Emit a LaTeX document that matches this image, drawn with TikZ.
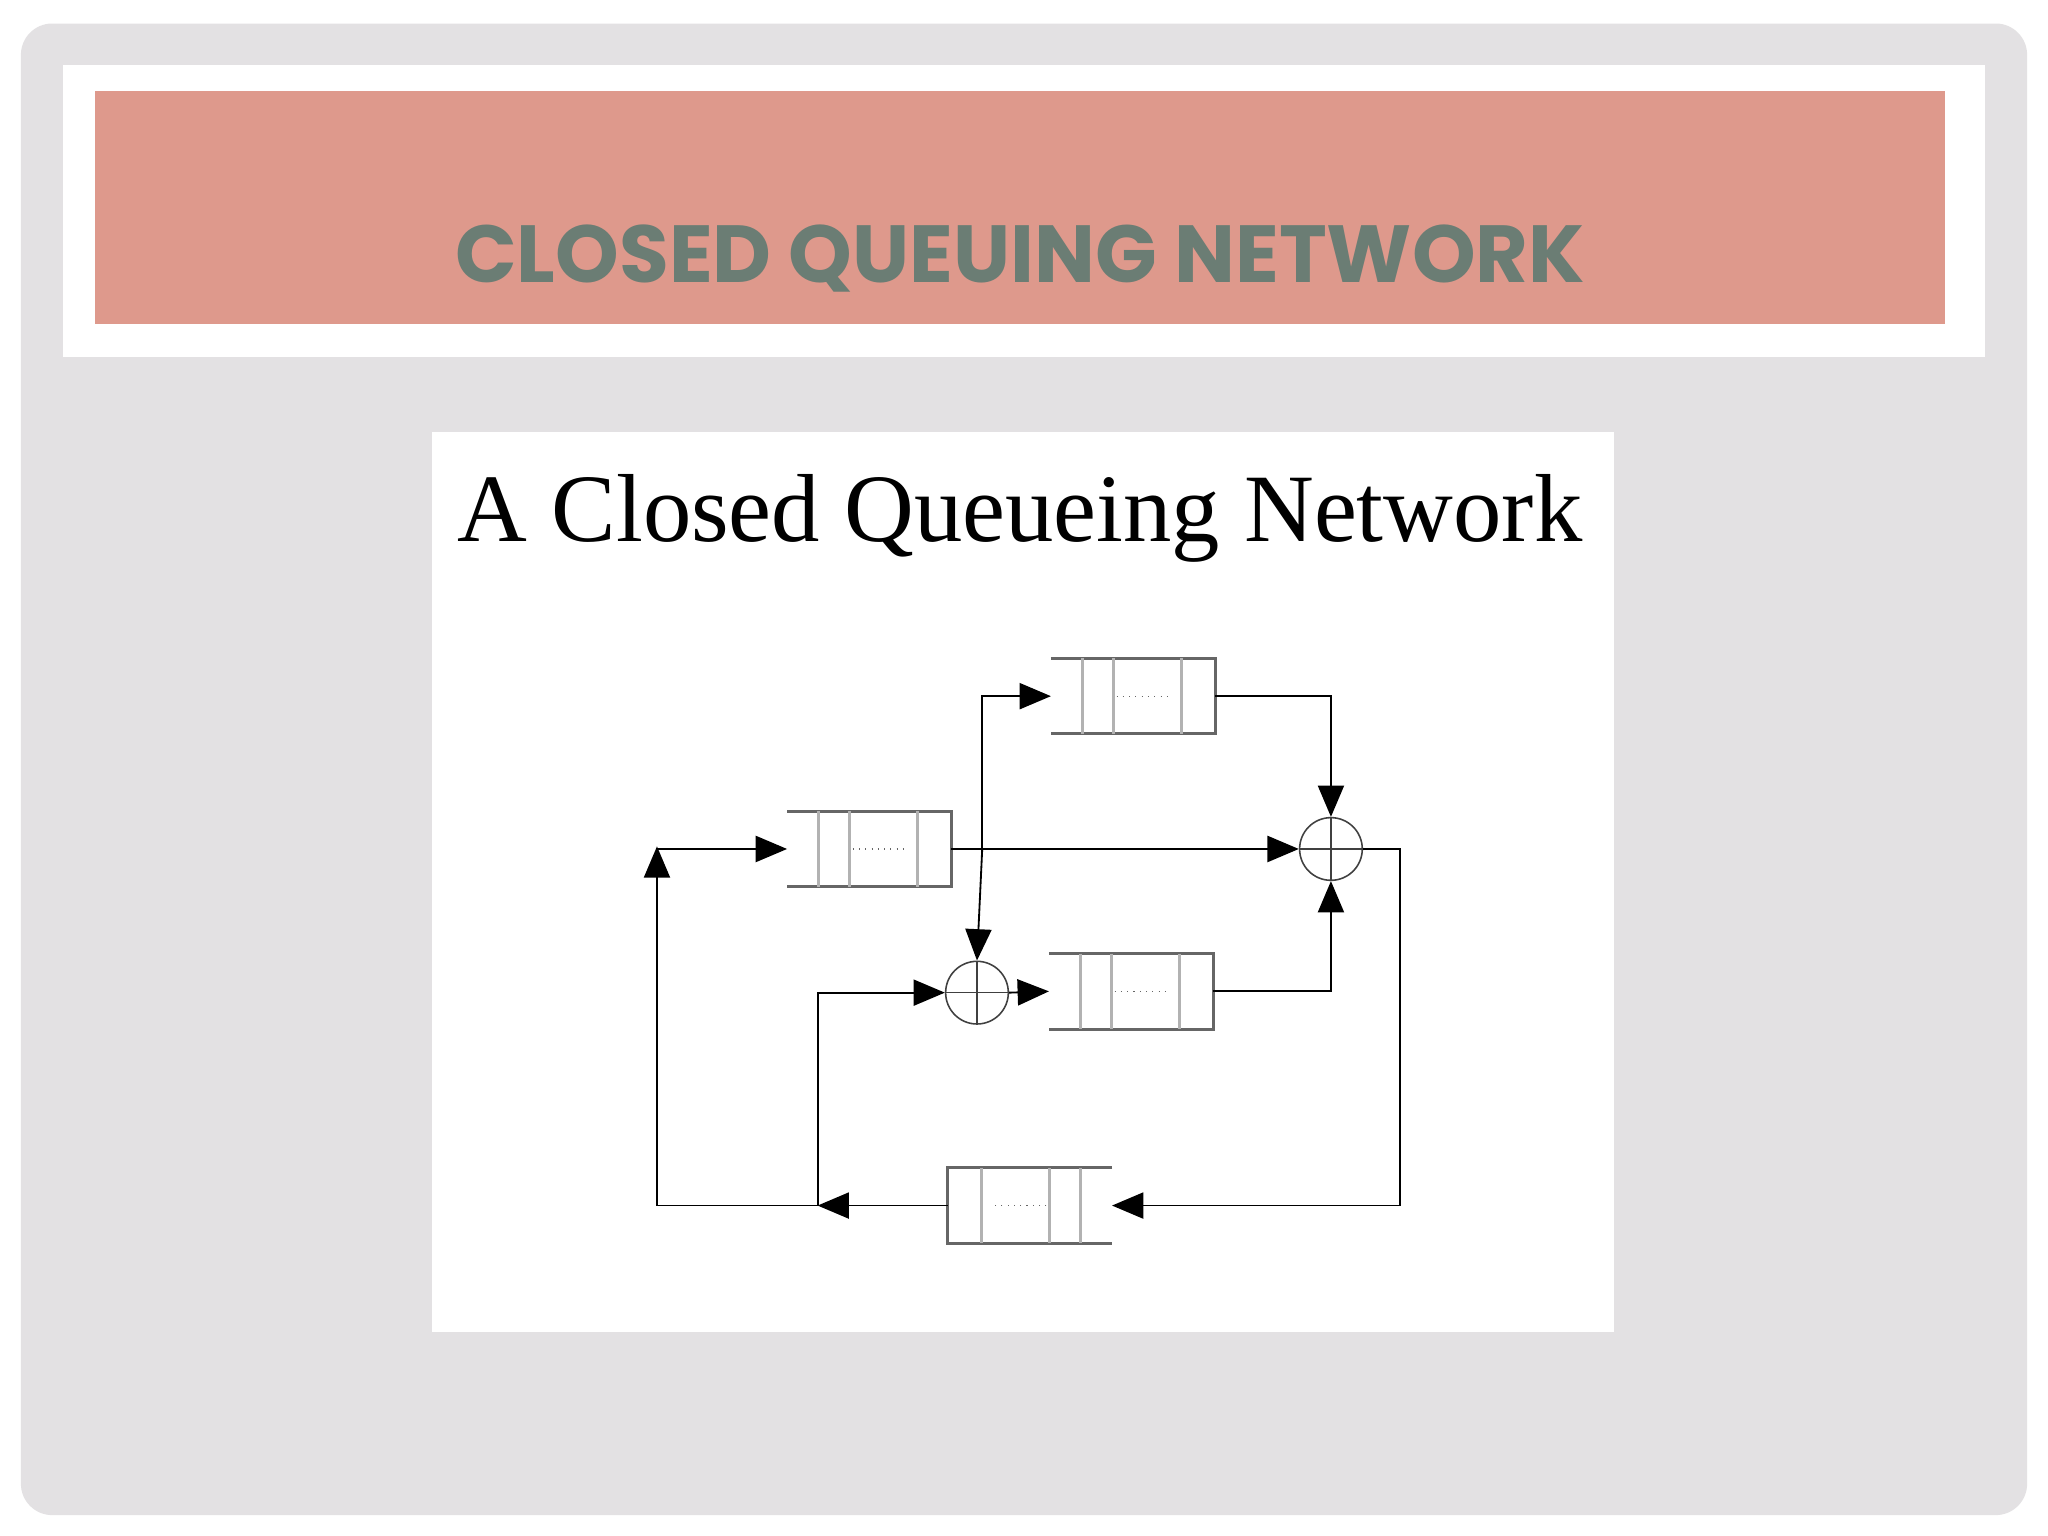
\documentclass[tikz,border=0pt]{standalone}
\usepackage{fontspec}
\setmainfont{Liberation Serif}
\newfontfamily\titlefont{Poppins}
\usetikzlibrary{arrows.meta,calc}
\definecolor{bgg}{HTML}{E3E1E3}
\definecolor{salmon}{HTML}{DE998C}
\definecolor{ttxt}{HTML}{6B7D74}
\tikzset{
  qbox/.style={minimum width=62.5pt,minimum height=28.5pt,inner sep=0pt},
  qline/.style={draw=black!60,line width=1.2pt},
  qthin/.style={draw=black!30,line width=1.1pt},
  conn/.style={draw=black,line width=0.7pt},
  arr/.style={conn,-{Triangle[length=12pt,width=10pt]}},
  sumnode/.style={circle,draw=black!75,line width=0.6pt,minimum size=24pt,inner sep=0pt},
}
\newcommand\qL[1]{%
  \draw[qline] (#1.north west)--(#1.north east)--(#1.south east)--(#1.south west);
  \foreach \f in {0.19,0.38,0.795}{\draw[qthin] ($(#1.north west)!\f!(#1.north east)$)--($(#1.south west)!\f!(#1.south east)$);}
  \draw[black!60,dotted,line width=0.4pt] ($(#1.west)!0.4!(#1.east)$)--($(#1.west)!0.72!(#1.east)$);}
\newcommand\qR[1]{%
  \draw[qline] (#1.north east)--(#1.north west)--(#1.south west)--(#1.south east);
  \foreach \f in {0.19,0.38,0.795}{\draw[qthin] ($(#1.north east)!\f!(#1.north west)$)--($(#1.south east)!\f!(#1.south west)$);}
  \draw[black!60,dotted,line width=0.4pt] ($(#1.east)!0.4!(#1.west)$)--($(#1.east)!0.72!(#1.west)$);}
\newcommand\plus[1]{\draw[black!75,line width=0.6pt] (#1.north)--(#1.south) (#1.west)--(#1.east);}
\begin{document}
\begin{tikzpicture}[x=0.5pt,y=-0.5pt]
\useasboundingbox (0,0) rectangle (1568,1176);
\fill[white] (0,0) rectangle (1568,1176);
\fill[bgg,rounded corners=12pt] (16,18) rectangle (1552,1160);
\fill[white] (48,50) rectangle (1520,273);
\fill[salmon] (73,70) rectangle (1489,248);
\node[font=\titlefont\bfseries\fontsize{31}{36}\selectfont,text=ttxt] (title) at (781,198) {CLOSED QUEUING NETWORK};
\fill[white] (331,331) rectangle (1236,1020);
\node[font=\fontsize{37}{42}\selectfont] (sub) at (781,397) {A Closed Queueing Network};
% queues
\node[qbox] (q1) at (867.5,533) {};
\node[qbox] (q2) at (665.5,650) {};
\node[qbox] (q3) at (866,759) {};
\node[qbox] (q4) at (788.5,923) {};
\qL{q1}\qL{q2}\qL{q3}\qR{q4}
\node[sumnode] (s1) at (1019,650) {};
\node[sumnode] (s2) at (748,760) {};
\plus{s1}\plus{s2}
% junctions
\coordinate (j1) at (752,650);
\coordinate (j1t) at (752,533);
\coordinate (j2) at (626,923);
\coordinate (j3) at (503,923);
\coordinate (j3t) at (503,650);
\coordinate (c1) at (1019,533);
\coordinate (c2) at (1019,759);
\coordinate (c3) at (1072,650);
\coordinate (c4) at (1072,923);
\coordinate (j2t) at (626,760);
% connectors
\draw[arr] (q2.east) -- (s1.west);
\draw[arr] (j1) -- (j1t) -- (q1.west);
\draw[conn] (j1) -- (j1t);
\draw[arr] (j1) -- (s2.north);
\draw[arr] (q1.east) -- (c1) -- (s1.north);
\draw[arr] (q3.east) -- (c2) -- (s1.south);
\draw[arr] (s2.east) -- (q3.west);
\draw[arr] (s1.east) -- (c3) -- (c4) -- (q4.east);
\draw[arr] (q4.west) -- (j2);
\draw[conn] (j2) -- (j3);
\draw[arr] (j2) -- (j2t) -- (s2.west);
\draw[arr] (j3) -- ($(j3t)+(0,-2)$);
\draw[arr] (j3t) -- (q2.west);
\end{tikzpicture}
\end{document}
